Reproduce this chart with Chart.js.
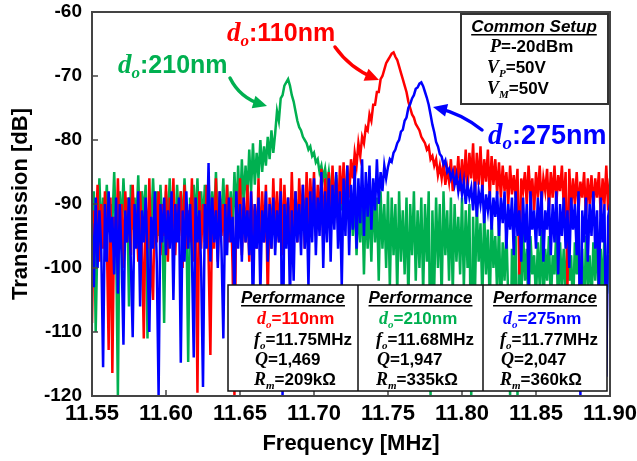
<!DOCTYPE html>
<html>
<head>
<meta charset="utf-8">
<script src="https://cdn.jsdelivr.net/npm/chart.js@4.4.0/dist/chart.umd.min.js"></script>
<style>
  html, body { margin: 0; padding: 0; background: #fff; }
  #contenedor { width: 637px; height: 461px; position: relative; }
</style>
</head>
<body>
<div id="contenedor"><canvas id="graficoTransmision"></canvas></div>
<script>
// Barrido del analizador: 11.55 a 11.90 MHz, paso de 1.25 kHz
const fInicio = 11.55;
const fPaso = 0.00125;

// Transmisión [dB] de cada resonador, un valor por paso del barrido
const azul275 = [
    -93, -103, -89, -100, -91, -97, -115.5, -90, -99, -88, -96, -92, -101, -89, -104, -90, -98, -112, -91, -96,
    -89, -99, -110.8, -90, -97, -88, -106, -91, -96, -89, -98, -110, -92, -97, -88, -99, -120, -90, -96, -89,
    -98, -91, -97, -88, -105, -90, -96, -89, -114.8, -91, -99, -88, -97, -90, -98, -114, -89, -96, -91, -100,
    -118.6, -90, -97, -83.6, -99, -89, -96, -91, -100, -88, -97, -111, -90, -98, -89, -96, -92, -106, -88, -97,
    -90, -99, -89, -96, -91, -98, -88, -108, -90, -97, -89, -104, -91, -96, -88, -99, -90, -97, -89, -98,
    -91, -96, -88, -120, -90, -97, -89, -105, -91, -102, -88, -96, -90, -98, -87, -97, -89, -103, -88, -96,
    -86, -98, -89, -95, -85, -100, -88, -96, -86, -99, -87, -94, -85, -97, -88, -103, -86, -95, -84, -98,
    -87, -94, -84, -97, -86, -93, -83, -95, -85, -92, -84, -94, -86, -91, -83, -90, -85, -88, -84, -86,
    -84.2, -83, -83.4, -82, -81.5, -80.5, -80, -78.7, -78.4, -77, -76.5, -75, -74.4, -73.5, -73, -72, -71.8, -71.2, -71, -71.6,
    -72.5, -73.4, -74.5, -76, -77.6, -78.8, -80.3, -81, -82.2, -82.6, -83.8, -83.2, -85, -84.5, -86, -85, -87, -85.5, -88, -86,
    -88.5, -86.5, -90, -87, -89, -87.5, -91, -86.5, -92, -88, -90, -87, -93, -88.5, -91, -88, -94, -89, -92, -88,
    -95, -89, -93, -88, -97, -90, -94, -89, -98, -88, -95, -91, -99, -89, -96, -90, -103, -88, -94, -91,
    -97, -89, -95, -88, -99, -91, -94, -89, -98, -90, -96, -88, -101, -90, -95, -89, -97, -91, -100, -89,
    -94, -90, -98, -88, -120, -91, -96, -89, -99, -90, -95, -88, -97, -91, -104, -89, -96, -90, -117, -92,
    -90
];

const rojo110 = [
    -108.6, -91, -96, -87, -99, -90, -97, -88, -95, -112.8, -89, -116.4, -92, -98, -86, -97, -90, -100, -88, -96,
    -89, -98, -87, -95, -91, -99, -88, -96, -111, -90, -97, -86, -100, -105, -89, -96, -88, -98, -90, -95,
    -87, -99, -89, -96, -86, -98, -90, -95, -88, -100, -87, -97, -91, -96, -86, -99, -89, -119.5, -88, -97,
    -90, -96, -87, -98, -113.6, -89, -97, -86, -99, -88, -95, -90, -98, -87, -96, -89, -100, -120, -88, -95,
    -86, -98, -89, -96, -87, -99, -88, -95, -90, -97, -86, -98, -88, -96, -87, -105, -89, -97, -86, -95,
    -88, -96, -86, -98, -87, -94, -89, -97, -85, -95, -88, -96, -86, -93, -87, -97, -85, -94, -86, -92,
    -85, -95, -87, -93, -84.5, -96, -86, -92, -85, -94, -84, -91, -86, -93, -84, -90, -83.5, -92, -84, -89,
    -83, -86, -82, -84, -80.5, -82.5, -79.5, -80.5, -78, -78.5, -76, -77, -74.5, -74.5, -72.5, -72.5, -70.5, -70, -69, -68,
    -67.5, -67, -66.5, -66.3, -67, -67.5, -68.5, -69.5, -70.5, -71.5, -72.5, -74, -75, -76, -76.5, -77.5, -78, -78.5, -79.5, -80,
    -80.5, -81.5, -81, -83, -82.5, -84, -83, -85.5, -84, -86, -83.5, -87, -84.5, -86.5, -83, -88, -84, -87, -82.5, -88,
    -83, -87.5, -81.5, -88, -82, -86, -80.5, -89, -82, -87, -81, -88, -83, -86.5, -81.5, -89, -82.5, -87, -83, -88.5,
    -83.5, -89, -84, -88, -85, -90, -84, -88.5, -85.5, -89, -84.5, -101, -86, -88, -85, -90, -84, -89, -86, -91,
    -85, -89, -84, -90, -86, -88, -84.5, -91, -85, -89, -84, -90, -85.5, -88, -84, -90.5, -85, -103, -84.5, -91,
    -86, -90, -85, -91, -86.5, -89, -85, -92, -86, -90, -85.5, -91, -86, -89, -85, -92, -86, -90, -84, -91,
    -86
];

const verde210 = [
    -93, -88, -110, -94, -86, -95, -89, -93, -87, -94, -90, -93, -85, -95, -120, -88, -94, -86, -93, -89,
    -106, -87, -94, -89, -93, -85.5, -95, -88, -92, -87, -111, -89, -94, -86, -93, -88, -95, -87, -93, -108.6,
    -88, -94, -86, -93, -89, -95, -87, -93, -88, -94, -86, -92, -114.7, -89, -94, -87, -93, -86, -95, -88,
    -93, -87, -92, -86, -94, -88, -93, -85, -94, -89, -92, -86, -95, -87, -93, -88, -94, -85, -92, -84,
    -92, -83, -90, -84, -89, -81.5, -88, -80.5, -87, -82, -86, -80, -85, -81, -84, -79.5, -83, -78.5, -82, -79,
    -75.5, -77, -73.5, -73, -71.5, -71, -70.5, -71.5, -73, -74, -75.5, -77, -78, -78.5, -79.5, -80, -80.5, -81.5, -81, -82.5,
    -82, -83.5, -83, -85, -84, -86, -84.5, -87, -85, -88, -86, -89, -85.5, -90, -87, -91, -86.5, -93, -88, -92,
    -89, -95, -88, -98, -90, -96, -88, -101, -89, -97, -90, -99, -88, -96, -89, -102, -88, -97, -90, -100,
    -88, -103, -89, -98, -90, -104, -88, -99, -91, -101, -89, -105, -90, -98, -88, -102, -91, -100, -89, -104,
    -90, -99, -88, -120, -91, -103, -89, -100, -90, -105, -88, -98, -91, -102, -89, -104, -90, -99, -92, -101,
    -89, -103, -91, -100, -90, -120, -92, -104, -90, -99, -93, -105, -91, -101, -94, -106, -92, -100, -95, -104,
    -93, -107, -96, -102, -94, -105, -120, -97, -103, -95, -120, -98, -106, -94, -102, -97, -108, -95, -101, -98,
    -105, -96, -103, -94, -107, -97, -102, -95, -106, -98, -101, -94, -108, -96, -103, -97, -105, -95, -102, -98,
    -107, -96, -101, -94, -105, -97, -108, -95, -103, -98, -106, -96, -102, -94, -107, -97, -104, -95, -101, -98,
    -104
];

// Tabla de desempeño (una columna por resonador)
const grosores = ['110nm', '210nm', '275nm'];
const frecuencias = ['11.75MHz', '11.68MHz', '11.77MHz'];
const factoresQ = ['1,469', '1,947', '2,047'];
const resistencias = ['209kΩ', '335kΩ', '360kΩ'];
const colores = ['#ff0000', '#00b050', '#0000ff'];

const puntos = serie => serie.map((v, i) => ({ x: fInicio + i * fPaso, y: v }));

const sans = t => 'bold ' + t + 'px "Liberation Sans", Arial, sans-serif';
const sansIt = t => 'italic bold ' + t + 'px "Liberation Sans", Arial, sans-serif';
const serif = t => 'italic bold ' + t + 'px "Liberation Serif", "Times New Roman", serif';

// escribe trozos de texto con fuentes distintas; devuelve [xInicio, ancho]
function dibujarTexto(ctx, x, y, partes, alinear) {
    let ancho = 0;
    partes.forEach(p => { ctx.font = p[1]; ancho += ctx.measureText(p[0]).width; });
    let cx = alinear === 'center' ? x - ancho / 2 : x;
    const x0 = cx;
    partes.forEach(p => {
        ctx.font = p[1];
        ctx.fillText(p[0], cx, y + (p[2] || 0));
        cx += ctx.measureText(p[0]).width;
    });
    return [x0, ancho];
}

function subrayado(ctx, x, y, partes) {
    const r = dibujarTexto(ctx, x, y, partes, 'center');
    ctx.fillRect(r[0], y + 2, r[1], 1.5);
}

function flecha(ctx, x0, y0, cx, cy, x1, y1, color) {
    ctx.strokeStyle = color;
    ctx.fillStyle = color;
    ctx.lineWidth = 3.5;
    ctx.lineCap = 'round';
    const ang = Math.atan2(y1 - cy, x1 - cx);
    ctx.beginPath();
    ctx.moveTo(x0, y0);
    ctx.quadraticCurveTo(cx, cy, x1 - Math.cos(ang) * 6, y1 - Math.sin(ang) * 6);
    ctx.stroke();
    const L = 14, W = 6.5;
    ctx.beginPath();
    ctx.moveTo(x1, y1);
    ctx.lineTo(x1 - Math.cos(ang) * L - Math.sin(ang) * W, y1 - Math.sin(ang) * L + Math.cos(ang) * W);
    ctx.lineTo(x1 - Math.cos(ang) * L + Math.sin(ang) * W, y1 - Math.sin(ang) * L - Math.cos(ang) * W);
    ctx.closePath();
    ctx.fill();
}

function etiqueta(ctx, x, y, texto, color, t) {
    ctx.fillStyle = color;
    dibujarTexto(ctx, x, y, [['d', serif(t + 2)], ['o', serif(t - 8), 5], [texto, sans(t)]]);
}

const decoracion = {
    id: 'decoracion',
    afterDraw(chart) {
        const ctx = chart.ctx;
        const a = chart.chartArea;
        const sx = chart.scales.x, sy = chart.scales.y;
        ctx.save();
        ctx.textBaseline = 'alphabetic';
        ctx.textAlign = 'left';

        // marco y marcas hacia dentro
        ctx.strokeStyle = '#444';
        ctx.lineWidth = 2;
        ctx.strokeRect(a.left, a.top, a.right - a.left, a.bottom - a.top);
        ctx.lineWidth = 1.5;
        sy.ticks.forEach(t => {
            const y = sy.getPixelForValue(t.value);
            ctx.beginPath(); ctx.moveTo(a.left, y); ctx.lineTo(a.left + 6, y); ctx.stroke();
        });
        sx.ticks.forEach(t => {
            const x = sx.getPixelForValue(t.value);
            ctx.beginPath(); ctx.moveTo(x, a.bottom); ctx.lineTo(x, a.bottom - 6); ctx.stroke();
        });

        // recuadro de condiciones comunes
        ctx.fillStyle = '#fff';
        ctx.fillRect(461, 14, 147, 90);
        ctx.strokeStyle = '#333';
        ctx.lineWidth = 2;
        ctx.strokeRect(461, 14, 147, 90);
        ctx.fillStyle = '#000';
        subrayado(ctx, 534, 32, [['Common Setup', sansIt(17)]]);
        dibujarTexto(ctx, 490, 52, [['P', serif(18)], ['=-20dBm', sans(17)]]);
        dibujarTexto(ctx, 487, 73, [['V', serif(18)], ['P', serif(11), 4], ['=50V', sans(17)]]);
        dibujarTexto(ctx, 487, 94, [['V', serif(18)], ['M', serif(11), 4], ['=50V', sans(17)]]);

        // tabla de desempeño
        const bordes = [228, 358, 483, 607];
        const inicioTexto = [254, 376, 500];
        ctx.fillStyle = '#fff';
        ctx.fillRect(228, 285, 379, 106);
        ctx.strokeStyle = '#111';
        ctx.lineWidth = 1.5;
        ctx.strokeRect(228, 285, 379, 106);
        ctx.beginPath();
        ctx.moveTo(358, 285); ctx.lineTo(358, 391);
        ctx.moveTo(483, 285); ctx.lineTo(483, 391);
        ctx.stroke();
        for (let c = 0; c < 3; c++) {
            const centro = (bordes[c] + bordes[c + 1]) / 2;
            const x = inicioTexto[c];
            ctx.fillStyle = '#000';
            subrayado(ctx, centro, 303, [['Performance', sansIt(17)]]);
            ctx.fillStyle = colores[c];
            dibujarTexto(ctx, x + 3, 324, [['d', serif(18)], ['o', serif(11), 4], ['=' + grosores[c], sans(17)]]);
            ctx.fillStyle = '#000';
            dibujarTexto(ctx, x, 345, [['f', serif(18)], ['o', serif(11), 4], ['=' + frecuencias[c], sans(17)]]);
            dibujarTexto(ctx, x + 1, 365, [['Q', serif(18)], ['=' + factoresQ[c], sans(17)]]);
            dibujarTexto(ctx, x, 385, [['R', serif(18)], ['m', serif(11), 4], ['=' + resistencias[c], sans(17)]]);
        }

        // etiquetas de cada pico
        etiqueta(ctx, 118, 73, ':210nm', colores[1], 25);
        flecha(ctx, 230, 78, 240, 98, 267, 106, colores[1]);
        etiqueta(ctx, 227, 41, ':110nm', colores[0], 25);
        flecha(ctx, 335, 47, 350, 68, 379, 80, colores[0]);
        etiqueta(ctx, 488, 144, ':275nm', colores[2], 27);
        flecha(ctx, 482, 130, 462, 114, 433, 107, colores[2]);

        ctx.restore();
    }
};

function graficoTransmision() {
    const ctx = document.getElementById('graficoTransmision');
    const serie = (datos, color, orden) => ({
        data: puntos(datos),
        borderColor: color,
        borderWidth: 2.5,
        pointRadius: 0,
        fill: false,
        tension: 0,
        order: orden
    });
    const fuente = t => ({ family: '"Liberation Sans", Arial, sans-serif', weight: 'bold', size: t });

    new Chart(ctx, {
        type: 'line',
        data: {
            datasets: [
                serie(azul275, colores[2], 1),
                serie(rojo110, colores[0], 2),
                serie(verde210, colores[1], 3)
            ]
        },
        options: {
            responsive: true,
            maintainAspectRatio: false,
            animation: false,
            layout: { padding: { top: 12, right: 27, left: 0, bottom: 0 } },
            plugins: { legend: { display: false }, tooltip: { enabled: false } },
            scales: {
                x: {
                    type: 'linear',
                    min: 11.55,
                    max: 11.90,
                    grid: { display: false, drawTicks: false },
                    border: { display: false },
                    ticks: {
                        stepSize: 0.05,
                        autoSkip: false,
                        maxRotation: 0,
                        padding: 5,
                        color: '#000',
                        font: fuente(22),
                        callback: v => v.toFixed(2)
                    },
                    title: {
                        display: true,
                        text: 'Frequency [MHz]',
                        color: '#000',
                        padding: { top: 0, bottom: 4 },
                        font: fuente(22)
                    },
                    afterFit: s => { s.height = 65; s.paddingLeft = 0; s.paddingRight = 0; }
                },
                y: {
                    min: -120,
                    max: -60,
                    grid: { display: false, drawTicks: false },
                    border: { display: false },
                    ticks: {
                        stepSize: 10,
                        padding: 10,
                        color: '#000',
                        font: fuente(19)
                    },
                    title: {
                        display: true,
                        text: 'Transmission [dB]',
                        color: '#000',
                        padding: { top: 8, bottom: 0 },
                        font: fuente(22)
                    },
                    afterFit: s => { s.width = 92; s.paddingTop = 0; s.paddingBottom = 0; }
                }
            }
        },
        plugins: [decoracion]
    });
}

graficoTransmision();
</script>
</body>
</html>
